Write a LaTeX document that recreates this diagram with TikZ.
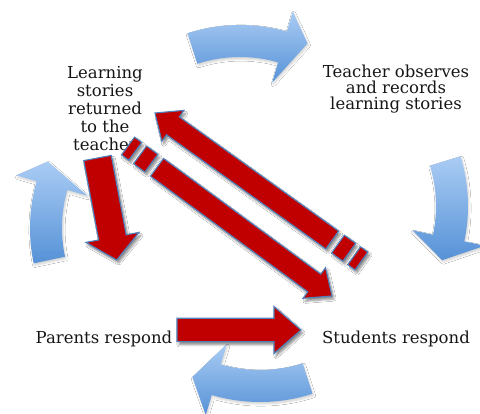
\documentclass[tikz,border=0pt]{standalone}
\usepackage{fontspec}
\setmainfont{DejaVu Serif}
\usepackage{xcolor}
\usetikzlibrary{calc,shadows,shadows.blur}
\definecolor{cyclelight}{RGB}{170,204,244}
\definecolor{cycleblue}{RGB}{86,146,215}
\definecolor{storyred}{RGB}{192,0,0}
\definecolor{storyedge}{RGB}{79,129,189}
\definecolor{labelgray}{RGB}{22,22,22}

\tikzset{
  cycletext/.style={text=labelgray, font=\fontsize{16.5}{18}\selectfont, align=center, inner sep=0pt},
  curvefill/.style={top color=cyclelight, bottom color=cycleblue, draw=none,
    blur shadow={shadow xshift=1pt, shadow yshift=-2pt, shadow opacity=18, shadow blur steps=5}},
  storyarrow/.style={fill=storyred, draw=storyedge, line width=1.1pt,
    blur shadow={shadow xshift=2pt, shadow yshift=-3pt, shadow opacity=45, shadow blur steps=6}}
}

% curved cycle arrow: center, tail angle, head angle, tip angle, tip radius
\newcommand{\bluecurve}[5]{%
  \path[curvefill, shift={#1}] (#2:170) arc[start angle=#2, end angle=#3, radius=170]
    -- (#3:191) -- (#4:#5) -- (#3:117) -- (#3:138)
    arc[start angle=#3, end angle=#2, radius=138] -- cycle;}

% block arrow: shaft half width, head half width, head length, tail, tip
\newcommand{\blockarrow}[5]{%
  \coordinate (hb) at ($(#5)!#3!(#4)$);
  \path[storyarrow] ($(#4)!#1!90:(#5)$) -- ($(hb)!#1!90:(#5)$) -- ($(hb)!#2!90:(#5)$)
    -- (#5) -- ($(hb)!#2!-90:(#5)$) -- ($(hb)!#1!-90:(#5)$) -- ($(#4)!#1!-90:(#5)$) -- cycle;}

% striped block arrow: tail, tip
\newcommand{\stripedarrow}[2]{%
  \coordinate (sa) at ($(#1)!9pt!(#2)$);
  \coordinate (sb) at ($(#1)!15pt!(#2)$);
  \coordinate (sc) at ($(#1)!29pt!(#2)$);
  \coordinate (sd) at ($(#1)!36pt!(#2)$);
  \path[storyarrow] ($(#1)!11pt!90:(#2)$) -- ($(sa)!11pt!90:(#2)$) -- ($(sa)!11pt!-90:(#2)$) -- ($(#1)!11pt!-90:(#2)$) -- cycle;
  \path[storyarrow] ($(sb)!11pt!90:(#2)$) -- ($(sc)!11pt!90:(#2)$) -- ($(sc)!11pt!-90:(#2)$) -- ($(sb)!11pt!-90:(#2)$) -- cycle;
  \blockarrow{11pt}{19pt}{22pt}{sd}{#2}}

\begin{document}
\begin{tikzpicture}[x=1pt, y=-1pt]
\useasboundingbox (0,0) rectangle (480,414);
\fill[white] (0,0) rectangle (480,414);
\clip (0,0) rectangle (480,414);

% labels
\node[cycletext] (stories) at (105,109) {Learning\\stories\\returned\\to the\\teacher};
\node[cycletext, font=\fontsize{16.5}{16}\selectfont] (teacher) at (396,89) {Teacher observes\\and records\\learning stories};
\node[cycletext] (students) at (396,339) {Students respond};
\node[cycletext] (parents) at (104,339) {Parents respond};

% cycle arrows
\bluecurve{(240,195)}{-108}{-74}{-66}{166}
\bluecurve{(298,206)}{-17}{12}{20.6}{154}
\bluecurve{(260,232)}{72}{106.5}{115}{160}
\bluecurve{(200,228)}{168}{196}{203.6}{166}

% story arrows
\coordinate (down-tail) at (97.5,158);
\coordinate (down-tip) at (116.7,260);
\coordinate (across-tail) at (177,330);
\coordinate (across-tip) at (301,330);
\coordinate (back-tail) at (361.5,261);
\coordinate (back-tip) at (155,113);
\coordinate (forth-tail) at (128,146);
\coordinate (forth-tip) at (332,296);

\blockarrow{14pt}{27pt}{23pt}{down-tail}{down-tip}
\blockarrow{11.7pt}{23.5pt}{27pt}{across-tail}{across-tip}
\stripedarrow{back-tail}{back-tip}
\stripedarrow{forth-tail}{forth-tip}
\end{tikzpicture}
\end{document}
